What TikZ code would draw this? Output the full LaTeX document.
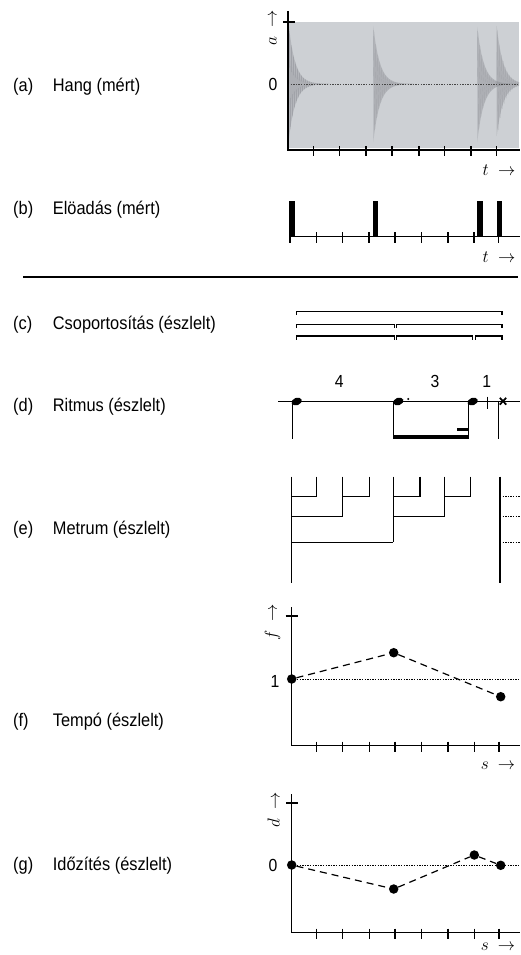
\documentclass[tikz,border=0pt]{standalone}
\usepackage{fontspec}
\setmainfont{Liberation Sans}
\newfontfamily\narrowsans[FakeStretch=0.9]{Liberation Sans}
\definecolor{panelbg}{RGB}{205,208,212}
\definecolor{burstgray}{RGB}{140,142,148}
\begin{document}
\begin{tikzpicture}[x=1pt,y=-1pt]
\tikzset{
  lbl/.style={anchor=west, inner sep=0pt, font=\narrowsans\fontsize{18.2}{20}\selectfont},
  num/.style={inner sep=0pt, font=\narrowsans\fontsize{17.5}{19}\selectfont},
  axlbl/.style={inner sep=0pt, font=\fontsize{16}{18}\selectfont},
  axis/.style={line width=1.1pt},
  tickmark/.style={line width=1.1pt},
  thin/.style={line width=1pt},
  dot/.style={circle, fill=black, inner sep=0pt, minimum size=9.5pt},
  trend/.style={line width=1.2pt, dash pattern=on 7pt off 5pt},
  refline/.style={line width=1pt, dash pattern=on 1.4pt off 1.2pt},
  burst/.style={fill=burstgray, fill opacity=.38},
  burstline/.style={draw=burstgray, line width=.3pt, opacity=.45},
}
% one decaying tone, onset #1, upper and lower peak amplitude #2, #3
\newcommand\decaytone[3]{%
  \fill[burst] plot[domain=0:40,samples=80] ({#1+\x},{84-#2*exp(-\x/6.5)})
     -- plot[domain=40:0,samples=80] ({#1+\x},{84+#3*exp(-\x/6.5)}) -- cycle;
  \draw[burstline] plot[domain=0:40,samples=401] ({#1+\x},{84-#2*exp(-\x/6.5)*sin(\x*180)});
}
\useasboundingbox (0,0) rectangle (520,955);

% ---------- left-hand labels ----------
\node[lbl] (la) at (13,87) {(a)};   \node[lbl] (ta) at (52.7,87) {Hang (mért)};
\node[lbl] (lb) at (13,210) {(b)};  \node[lbl] (tb) at (52.7,210) {Elöadás (mért)};
\node[lbl] (lc) at (13,325) {(c)};  \node[lbl] (tc) at (52.7,325) {Csoportosítás (észlelt)};
\node[lbl] (ld) at (13,407) {(d)};  \node[lbl] (td) at (52.7,407) {Ritmus (észlelt)};
\node[lbl] (le) at (13,530) {(e)};  \node[lbl] (te) at (52.7,530) {Metrum (észlelt)};
\node[lbl] (lf) at (13,722) {(f)};  \node[lbl] (tf) at (52.7,722) {Tempó (észlelt)};
\node[lbl] (lg) at (13,866) {(g)};  \node[lbl] (tg) at (52.7,866) {Időzítés (észlelt)};

% ---------- (a) sound signal ----------
\fill[panelbg] (288,22) rectangle (519,148);
\begin{scope}
  \clip (288,22) rectangle (519,148);
  \decaytone{289}{57}{54}
  \decaytone{373.3}{58}{58}
  \decaytone{477.3}{57}{58}
  \decaytone{496.7}{58}{52}
  \draw[refline, gray!55!black, line width=.6pt] (288,84) -- (519,84);
\end{scope}
\draw[axis] (288,11) -- (288,150) -- (520,150);
\draw[tickmark] (283,22) -- (295,22);
\foreach \t in {313.3,339.3,366,392,419,444.7,471,496.7}
  \draw[tickmark] (\t,146) -- (\t,156);
\node[axlbl, rotate=90] (ya) at (273,28) {$a\ \rightarrow$};
\node[num] (za) at (273,84) {0};
\node[axlbl] (xa) at (499,170) {$t\ \rightarrow$};

% ---------- (b) performance onsets ----------
\draw[axis] (289,236.5) -- (520,236.5);
\foreach \t in {290,316.7,342.7,369,395,421.3,448,474,498.7}
  \draw[tickmark] (\t,232) -- (\t,243);
\foreach \l in {289,372.7,477.3,496.5}
  \fill (\l,201) rectangle ++(5.5,35.5);
\node[axlbl] (xb) at (499,256.7) {$t\ \rightarrow$};

% separator
\draw[line width=1.2pt] (23,277) -- (518,277);

% ---------- (c) grouping ----------
\foreach \a/\b/\y in {296.7/502/311.7, 296.7/394.7/324.5, 396.7/502/324.5,
                     296.7/394.7/336, 396.7/472.7/336, 475.3/502/336}
  \draw[axis] (\a,\y+3.5) -- (\a,\y) -- (\b,\y) -- (\b,\y+3.5);

% ---------- (d) rhythm ----------
\draw[axis] (278,401.5) -- (520,401.5);
\foreach \x in {296.7,398.3,472.7}
  \fill[rotate around={20:(\x,401.5)}] (\x,401.5) ellipse [x radius=5.3pt, y radius=3.7pt];
\draw[thin] (292.3,402) -- (292.3,439);
\draw[thin] (393.8,402) -- (393.8,437);
\draw[thin] (468.7,402) -- (468.7,437);
\draw[thin] (498.5,402) -- (498.5,439);
\fill (393.3,435) rectangle (469.2,439);
\fill (457,427.5) rectangle (469.2,431);
\fill (408.3,399) circle (1.1pt);
\draw[line width=1.3pt] (487.3,396.5) -- (487.3,408.5);
\draw[line width=1.7pt] (499.8,397.8) -- (506.2,404.6) (499.8,404.6) -- (506.2,397.8);
\node[num] (n4) at (339.3,381.7) {4};
\node[num] (n3) at (435,381.7) {3};
\node[num] (n1) at (486.7,381.7) {1};

% ---------- (e) metre ----------
\begin{scope}[axis]
  \draw (291.7,476.7) -- (291.7,583.3);
  \foreach \x in {316.7,342.7,369.3,393.3,420,444.7,470.7}
    \draw (\x,476.7) -- (\x,496.7);
  \draw (291.7,496.7) -- (316.7,496.7);
  \draw (342.7,496.7) -- (369.3,496.7);
  \draw (393.3,496.7) -- (420,496.7);
  \draw (444.7,496.7) -- (470.7,496.7);
  \draw (342.7,496.7) -- (342.7,516.7);
  \draw (444.7,496.7) -- (444.7,516.7);
  \draw (291.7,516.7) -- (342.7,516.7);
  \draw (393.3,516.7) -- (444.7,516.7);
  \draw (393.3,496.7) -- (393.3,542.3);
  \draw (291.7,542.3) -- (393.3,542.3);
  \draw (500,476.7) -- (500,583.3);
\end{scope}
\foreach \y in {496.7,516.7,542.3}
  \draw[refline] (500,\y) -- (520,\y);

% ---------- (f) tempo ----------
\draw[axis] (291.7,607) -- (291.7,745.7) -- (520,745.7);
\draw[tickmark] (285.5,616) -- (298,616);
\foreach \t in {316.7,342.7,369.3,395,421.7,448,474.3,499}
  \draw[tickmark] (\t,741.5) -- (\t,752);
\draw[refline] (291.7,679) -- (520,679);
\node[dot] (f1) at (291.7,679) {};
\node[dot] (f2) at (393.7,652.7) {};
\node[dot] (f3) at (500.7,696.7) {};
\draw[trend] (f1) -- (f2) -- (f3);
\node[axlbl, rotate=90] (yf) at (272.5,622.5) {$f\ \rightarrow$};
\node[num] (of) at (275,681) {1};
\node[axlbl] (xf) at (498,766) {$s\ \rightarrow$};

% ---------- (g) timing ----------
\draw[axis] (291.7,794) -- (291.7,932.7) -- (520,932.7);
\draw[tickmark] (286,803) -- (298.3,803);
\foreach \t in {316.7,342.7,369.3,395,421.7,448,474.3,499}
  \draw[tickmark] (\t,928.5) -- (\t,939);
\draw[refline] (291.7,865) -- (520,865);
\node[dot] (g1) at (291.7,865) {};
\node[dot] (g2) at (393.7,889) {};
\node[dot] (g3) at (474.3,855) {};
\node[dot] (g4) at (500.7,865.3) {};
\draw[trend] (g1) -- (g2) -- (g3) -- (g4);
\node[axlbl, rotate=90] (yg) at (273.5,810) {$d\ \rightarrow$};
\node[num] (og) at (273,865) {0};
\node[axlbl] (xg) at (498,947) {$s\ \rightarrow$};
\end{tikzpicture}
\end{document}
